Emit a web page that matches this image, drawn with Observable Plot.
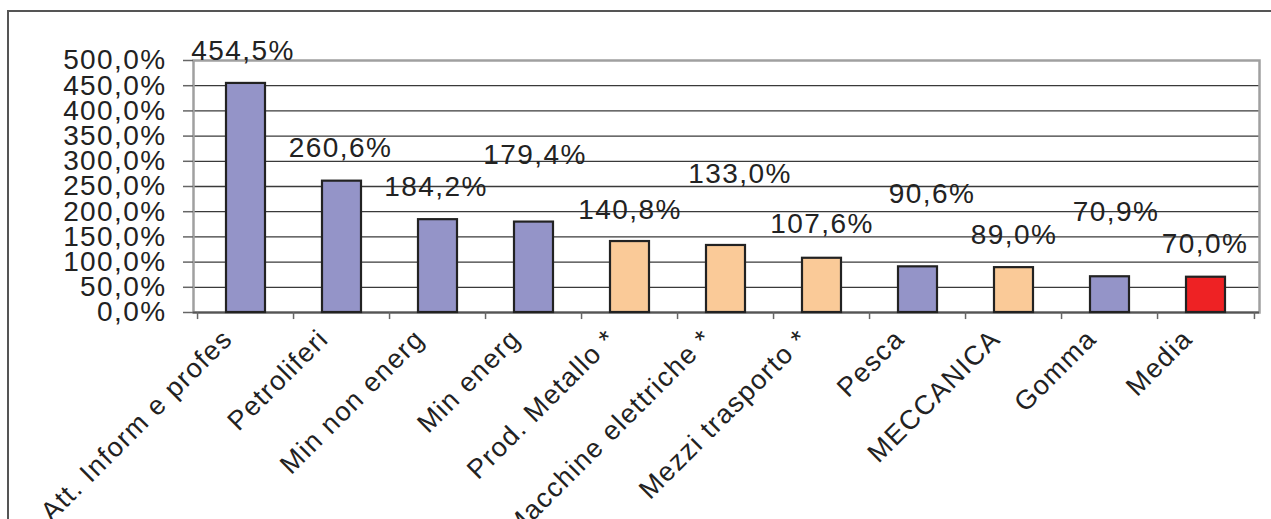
<!DOCTYPE html>
<html>
<head>
<meta charset="utf-8">
<script src="https://cdn.jsdelivr.net/npm/d3@7"></script>
<script src="https://cdn.jsdelivr.net/npm/@observablehq/plot@0.6"></script>
<style>
  html, body { margin: 0; padding: 0; background: #fff; }
  #wrap { position: relative; width: 1271px; height: 519px; overflow: hidden; }
  #box { position: absolute; left: 7px; top: 10px; width: 1400px; height: 700px;
         border: 2px solid #555; pointer-events: none; }
</style>
</head>
<body>
<div id="wrap"><div id="box"></div></div>
<script>
// Sectors, growth rates (%) and sector group
const categories = ["Att. Inform e profes", "Petroliferi", "Min non energ", "Min energ",
  "Prod. Metallo *", "Macchine elettriche *", "Mezzi trasporto *", "Pesca",
  "MECCANICA", "Gomma", "Media"];
const values = [454.5, 260.6, 184.2, 179.4, 140.8, 133.0, 107.6, 90.6, 89.0, 70.9, 70.0];
const groups = ["altri", "altri", "altri", "altri", "meccanica", "meccanica", "meccanica",
  "altri", "meccanica", "altri", "media"];
const yTicks = [0, 50, 100, 150, 200, 250, 300, 350, 400, 450, 500];

// Value label offsets (px) from the top of each bar
const labelShift = [[-3, -23], [-1.5, -24], [-2, -24], [1, -58], [0, -23], [14, -62],
  [0, -25], [14, -64], [0, -24], [6, -56], [-1, -24]];

const data = categories.map((c, i) => ({cat: c, value: values[i], group: groups[i]}));
const fmt = v => v.toFixed(1).replace(".", ",") + "%";

const W = 1271, H = 519, ML = 193, MR = 12, MT = 60, MB = 207;
const step = (W - ML - MR) / categories.length;

const chart = Plot.plot({
  width: W,
  height: H,
  marginLeft: ML,
  marginRight: MR,
  marginTop: MT,
  marginBottom: MB,
  style: {
    fontFamily: "'Liberation Sans', Arial, sans-serif",
    fontSize: "28px",
    letterSpacing: "1.4px",
    color: "#222",
    background: "transparent",
    overflow: "visible"
  },
  x: {type: "band", domain: categories, paddingInner: 0.59, paddingOuter: 0.295, axis: null},
  y: {domain: [0, 500], axis: null},
  color: {domain: ["altri", "meccanica", "media"], range: ["#9494C8", "#FACA98", "#EE2224"]},
  marks: [
    Plot.ruleY(yTicks.filter(v => v > 0 && v < 500), {stroke: "#3a3a3a", strokeWidth: 1.3}),
    Plot.frame({stroke: "#a0a0a0", strokeWidth: 2.5}),
    Plot.ruleY([0], {stroke: "#555", strokeWidth: 2}),
    Plot.axisY(yTicks, {label: null, tickSize: 10, tickPadding: 17, tickFormat: fmt, stroke: "#666", strokeWidth: 1.5}),
    // category separators below the axis
    Plot.ruleX(categories, {x: d => d, dx: -step / 2, y1: 0, y2: -14, stroke: "#666", strokeWidth: 1.5}),
    Plot.ruleX(categories.slice(-1), {x: d => d, dx: step / 2, y1: 0, y2: -14, stroke: "#666", strokeWidth: 1.5}),
    Plot.barY(data, {x: "cat", y: "value", fill: "group", stroke: "#222", strokeWidth: 2.2}),
    ...data.map((d, i) => Plot.text([d], {
      x: "cat", y: "value", text: e => fmt(e.value),
      textAnchor: "middle", lineAnchor: "bottom",
      dx: labelShift[i][0], dy: labelShift[i][1], fill: "#222"
    })),
    Plot.text(categories, {
      x: d => d, frameAnchor: "bottom", text: d => d,
      rotate: -45, textAnchor: "end", lineAnchor: "bottom",
      fontSize: 27, dx: -12, dy: 28, fill: "#222", ariaLabel: "category"
    })
  ]
});

// category names use slightly tighter spacing
d3.select(chart).selectAll('g[aria-label="category"]').style("letter-spacing", "0.8px");

document.getElementById("wrap").insertBefore(chart, document.getElementById("box"));
</script>
</body>
</html>
